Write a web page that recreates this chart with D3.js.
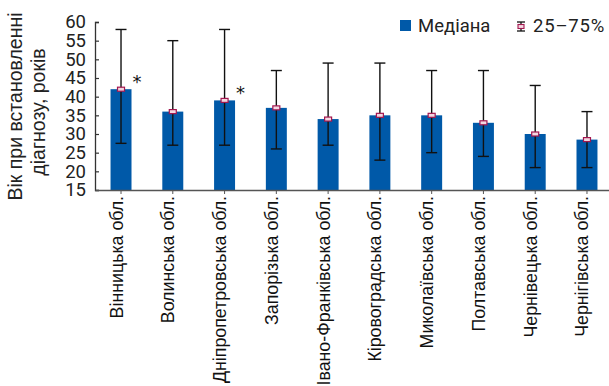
<!DOCTYPE html>
<html>
<head>
<meta charset="utf-8">
<script src="https://cdn.jsdelivr.net/npm/d3@7"></script>
<style>
  html, body { margin: 0; padding: 0; background: #fff; }
  svg { display: block; }
</style>
</head>
<body>
<svg id="chart" width="609" height="386"></svg>
<script>
// Regions and age at diagnosis (median with 25–75% range)
const regions = [
  "Вінницька обл.", "Волинська обл.", "Дніпропетровська обл.", "Запорізька обл.",
  "Івано-Франківська обл.", "Кіровоградська обл.", "Миколаївська обл.",
  "Полтавська обл.", "Чернівецька обл.", "Чернігівська обл."
];
const medians = [42, 36, 39, 37, 34, 35, 35, 33, 30, 28.5];
const q25 = [27.5, 27, 27, 26, 27, 23, 25, 24, 21, 21];
const q75 = [58, 55, 58, 47, 49, 49, 47, 47, 43, 36];
const significant = [true, false, true, false, false, false, false, false, false, false];
const yTicks = [15, 20, 25, 30, 35, 40, 45, 50, 55, 60];

const svg = d3.select("#chart");
const plotLeft = 95, plotRight = 613, plotTop = 22, plotBottom = 190;

const x = d3.scaleBand().domain(regions).range([plotLeft, plotRight]).paddingInner(0.595).paddingOuter(0.3);
const y = d3.scaleLinear().domain([15, 60]).range([plotBottom, plotTop]);

const barColor = "#0059a8";
const markColor = "#a3174f";
const labelFont = "Liberation Sans, Arial, sans-serif";
const numFont = "Roboto, sans-serif";

// Bars
svg.append("g").selectAll("rect").data(regions).join("rect")
  .attr("x", d => x(d))
  .attr("width", x.bandwidth())
  .attr("y", (d, i) => y(medians[i]))
  .attr("height", (d, i) => y(15) - y(medians[i]))
  .attr("fill", barColor);

// Error bars
const eb = svg.append("g").attr("stroke", "#111").attr("stroke-width", 1.4).attr("fill", "none");
regions.forEach((d, i) => {
  const cx = x(d) + x.bandwidth() / 2;
  eb.append("line").attr("x1", cx).attr("x2", cx).attr("y1", y(q75[i])).attr("y2", y(q25[i]));
  eb.append("line").attr("x1", cx - 5.5).attr("x2", cx + 5.5).attr("y1", y(q75[i])).attr("y2", y(q75[i]));
  eb.append("line").attr("x1", cx - 5.5).attr("x2", cx + 5.5).attr("y1", y(q25[i])).attr("y2", y(q25[i]));
});

// Median markers
svg.append("g").selectAll("rect").data(regions).join("rect")
  .attr("x", d => x(d) + x.bandwidth() / 2 - 3.5)
  .attr("y", (d, i) => y(medians[i]) - 2)
  .attr("width", 7).attr("height", 4)
  .attr("fill", "#f3d6e0").attr("stroke", markColor).attr("stroke-width", 1.2);

// Significance marks
svg.append("g").selectAll("text").data(regions.filter((d, i) => significant[i])).join("text")
  .attr("x", d => x(d) + x.bandwidth() + 1)
  .attr("y", d => y(medians[regions.indexOf(d)]) - 1)
  .attr("font-family", "DejaVu Sans, sans-serif").attr("font-size", 18).attr("fill", "#111")
  .text("*");

// Y axis
const yAxis = svg.append("g").attr("transform", `translate(${plotLeft},0)`)
  .call(d3.axisLeft(y).tickValues(yTicks).tickSize(-4).tickPadding(9));
yAxis.select(".domain").attr("stroke", "#333").attr("stroke-width", 1.3);
yAxis.selectAll(".tick line").attr("stroke", "#333").attr("stroke-width", 1.2);
yAxis.selectAll("text").attr("font-family", numFont).attr("font-size", 18.5).attr("fill", "#222");

// X axis
const xAxis = svg.append("g").attr("transform", `translate(0,${plotBottom})`)
  .call(d3.axisBottom(x).tickSize(4).tickSizeOuter(0).tickFormat(""));
xAxis.select(".domain").attr("stroke", "#555").attr("stroke-width", 1.3);
xAxis.selectAll(".tick line").attr("stroke", "#555");

// Category labels, rotated
svg.append("g").selectAll("text").data(regions).join("text")
  .attr("transform", d => `translate(${x(d) + x.bandwidth() / 2 + 1.5},${plotBottom + 6}) rotate(-90)`)
  .attr("text-anchor", "end")
  .attr("font-family", labelFont).attr("font-size", 17.8).attr("fill", "#111")
  .text(d => d);

// Y axis title, two lines
svg.append("text")
  .attr("transform", "translate(22,106.5) rotate(-90)")
  .attr("text-anchor", "middle")
  .attr("font-family", labelFont).attr("font-size", 19.5).attr("fill", "#222")
  .text("Вік при встановленні");
svg.append("text")
  .attr("transform", "translate(45,112) rotate(-90)")
  .attr("text-anchor", "middle")
  .attr("font-family", labelFont).attr("font-size", 19.5).attr("fill", "#222")
  .text("діагнозу, років");

// Legend
const lg = svg.append("g");
lg.append("rect").attr("x", 400).attr("y", 20).attr("width", 11).attr("height", 11).attr("fill", barColor);
lg.append("text").attr("x", 418).attr("y", 32).attr("font-family", numFont).attr("font-size", 18.5).attr("fill", "#222").text("Медіана");
const lx = 521;
lg.append("line").attr("x1", lx).attr("x2", lx).attr("y1", 22).attr("y2", 31).attr("stroke", "#111").attr("stroke-width", 1.3);
lg.append("line").attr("x1", lx - 4).attr("x2", lx + 4).attr("y1", 22).attr("y2", 22).attr("stroke", "#111").attr("stroke-width", 1.3);
lg.append("line").attr("x1", lx - 4).attr("x2", lx + 4).attr("y1", 31).attr("y2", 31).attr("stroke", "#111").attr("stroke-width", 1.3);
lg.append("rect").attr("x", lx - 3).attr("y", 24.5).attr("width", 6).attr("height", 4)
  .attr("fill", "#f3d6e0").attr("stroke", markColor).attr("stroke-width", 1.1);
lg.append("text").attr("x", 533).attr("y", 32).attr("font-family", numFont).attr("font-size", 18.5)
  .attr("letter-spacing", 0.8).attr("fill", "#222").text("25–75%");
</script>
</body>
</html>
